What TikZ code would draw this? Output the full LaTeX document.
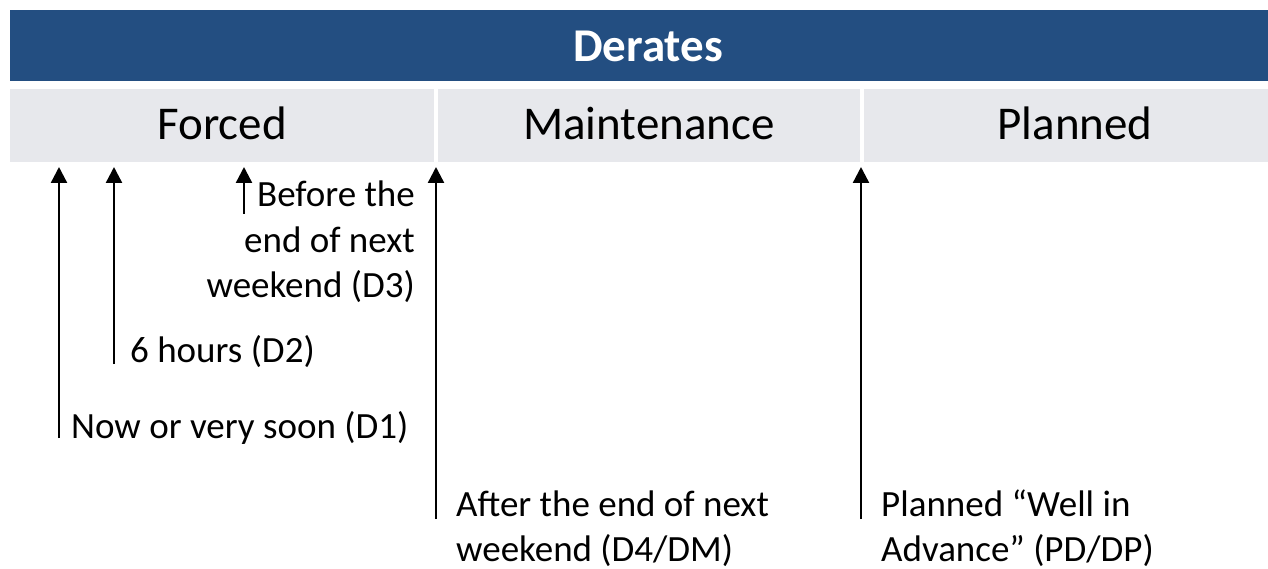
\documentclass[tikz,border=0pt]{standalone}
\usepackage{fontspec}
\setmainfont{Carlito}
\usetikzlibrary{arrows.meta}
\definecolor{hdrblue}{RGB}{35,78,129}
\definecolor{cellgray}{RGB}{231,232,236}
\begin{document}
\begin{tikzpicture}[x=1pt,y=-1pt,
  hdrtext/.style={text=white,font=\fontsize{47}{56}\selectfont\bfseries,inner sep=0,anchor=base},
  celltext/.style={text=black,font=\fontsize{47}{56}\selectfont,inner sep=0,anchor=base},
  lbl/.style={text=black,font=\fontsize{37}{45}\selectfont,inner sep=0},
  tarrow/.style={line width=2.4pt,-{Triangle[width=16pt,length=16pt]}}]
\useasboundingbox (0,0) rectangle (1268,569);
\fill[white] (0,0) rectangle (1268,569);
% header bar
\fill[hdrblue] (10,10) rectangle (1268,81);
\node[hdrtext] (derates) at (648,62) {Derates};
% grey cells
\fill[cellgray] (10,89) rectangle (434,162);
\fill[cellgray] (438,89) rectangle (860,162);
\fill[cellgray] (864,89) rectangle (1268,162);
\node[celltext] (forced) at (222,140) {Forced};
\node[celltext] (maint) at (649,140) {Maintenance};
\node[celltext] (planned) at (1075,140) {Planned};
% arrow ends
\coordinate (a1b) at (59,438);  \coordinate (a1t) at (59,167);
\coordinate (a2b) at (114,364); \coordinate (a2t) at (114,167);
\coordinate (a3b) at (244,214); \coordinate (a3t) at (244,167);
\coordinate (a4b) at (436,519); \coordinate (a4t) at (436,167);
\coordinate (a5b) at (861,519); \coordinate (a5t) at (861,167);
\draw[tarrow] (a1b) -- (a1t);
\draw[tarrow] (a2b) -- (a2t);
\draw[tarrow] (a3b) -- (a3t);
\draw[tarrow] (a4b) -- (a4t);
\draw[tarrow] (a5b) -- (a5t);
% labels (base anchor = baseline of last line)
\node[lbl,anchor=base west] (d1) at (71,438) {Now or very soon (D1)};
\node[lbl,anchor=base west] (d2) at (130,362) {6 hours (D2)};
\node[lbl,anchor=base east,align=right] (d3) at (415,297) {Before the\\end of next\\weekend (D3)};
\node[lbl,anchor=base west,align=left] (d4) at (456,561) {After the end of next\\weekend (D4/DM)};
\node[lbl,anchor=base west,align=left] (d5) at (881,561) {Planned “Well in\\Advance” (PD/DP)};
\end{tikzpicture}
\end{document}
